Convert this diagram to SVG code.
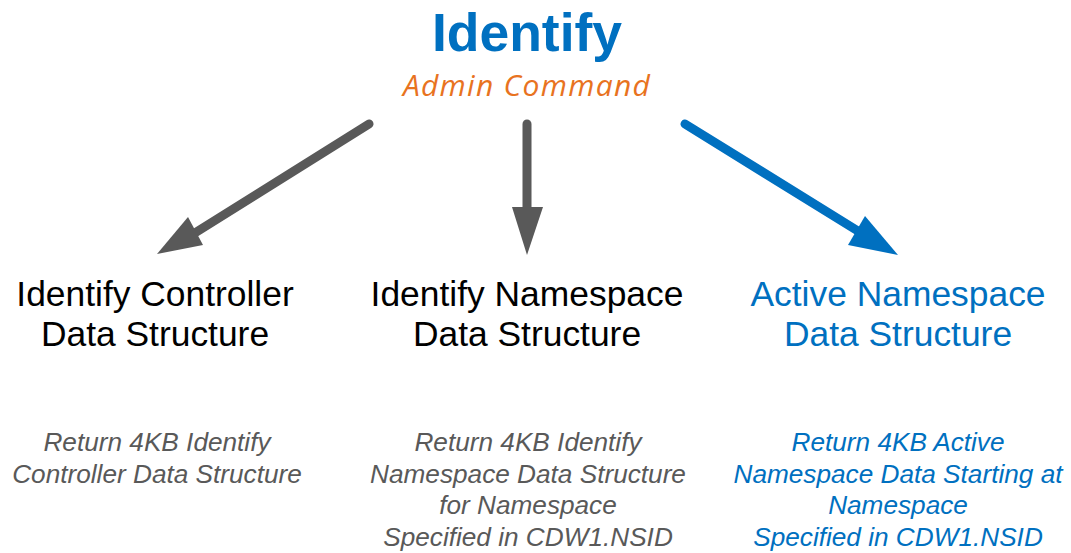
<svg xmlns="http://www.w3.org/2000/svg" width="1071" height="553" viewBox="0 0 1071 553">
<style>
.t{font-family:"Liberation Sans",Arial,sans-serif;text-anchor:middle}
.title{font-size:53.5px;font-weight:bold;fill:#0070C0}
.sub{font-family:"Open Sans","Liberation Sans",sans-serif;font-style:italic;font-size:30px;letter-spacing:1.3px;fill:#E8731F;text-anchor:middle}
.node{font-size:35.4px;fill:#000}
.blue{fill:#0070C0}
.desc{font-size:26.2px;font-style:italic;fill:#595959}
.descb{font-size:26.2px;font-style:italic;fill:#0070C0}
.gl{stroke:#595959;stroke-width:9;stroke-linecap:round;fill:none}
.bl{stroke:#0070C0;stroke-width:9;stroke-linecap:round;fill:none}
</style>
<rect width="1071" height="553" fill="#fff"/>
<g id="header">
<text class="t title" x="527" y="51">Identify</text>
<text class="sub" x="527" y="96">Admin Command</text>
</g>
<g id="connectors">
<line class="gl" x1="369" y1="124" x2="190" y2="236"/>
<polygon points="157,254 188,217 203,245" fill="#595959"/>
<line class="gl" x1="527" y1="124" x2="527" y2="210"/>
<polygon points="512,207 543,207 527,255" fill="#595959"/>
<line class="bl" x1="685" y1="124" x2="866" y2="236"/>
<polygon points="898,255 865,216 848,245" fill="#0070C0"/>
</g>
<g id="node-controller">
<text class="t node" x="155" y="306">Identify Controller</text>
<text class="t node" x="155" y="346">Data Structure</text>
<text class="t desc" x="157" y="451">Return 4KB Identify</text>
<text class="t desc" x="157" y="483">Controller Data Structure</text>
</g>
<g id="node-namespace">
<text class="t node" x="527" y="306">Identify Namespace</text>
<text class="t node" x="527" y="346">Data Structure</text>
<text class="t desc" x="528" y="451">Return 4KB Identify</text>
<text class="t desc" x="528" y="483">Namespace Data Structure</text>
<text class="t desc" x="528" y="514">for Namespace</text>
<text class="t desc" x="528" y="546">Specified in CDW1.NSID</text>
</g>
<g id="node-active">
<text class="t node blue" x="898" y="306">Active Namespace</text>
<text class="t node blue" x="898" y="346">Data Structure</text>
<text class="t descb" x="898" y="451">Return 4KB Active</text>
<text class="t descb" x="898" y="483">Namespace Data Starting at</text>
<text class="t descb" x="898" y="514">Namespace</text>
<text class="t descb" x="898" y="546">Specified in CDW1.NSID</text>
</g>
</svg>
